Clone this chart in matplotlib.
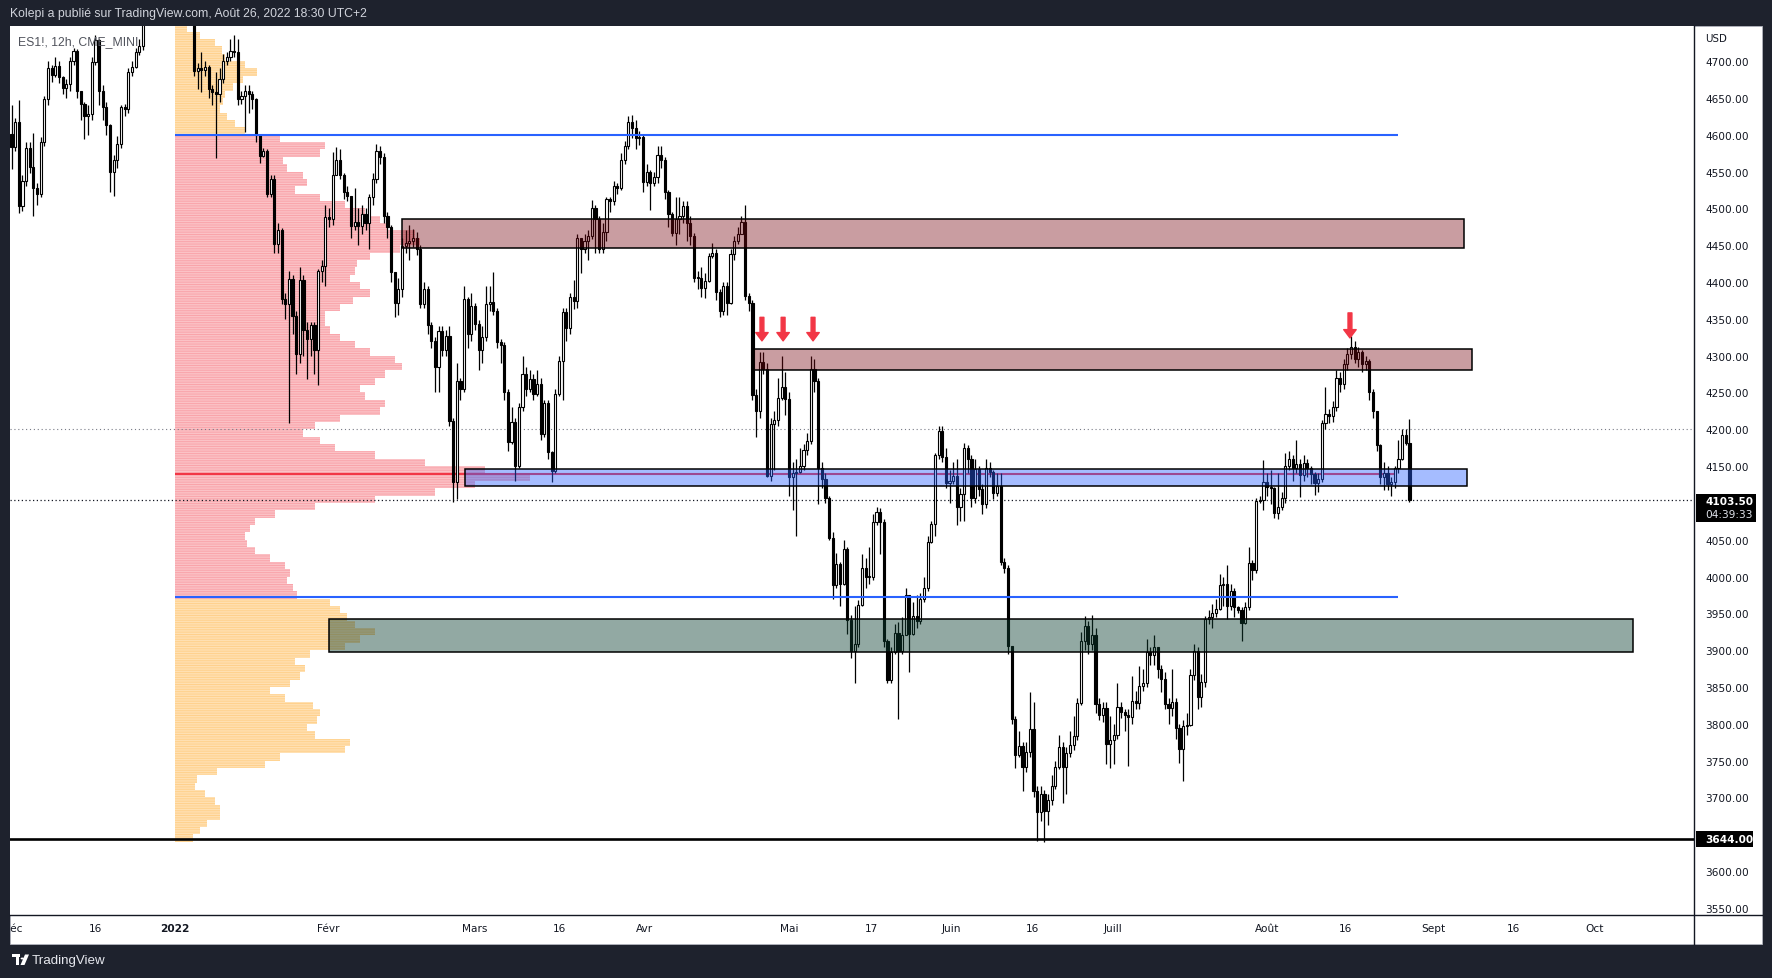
import matplotlib.pyplot as plt
import numpy as np
from matplotlib.patches import Circle, Polygon, Rectangle

# ES1! 12h bars (Dec 2021 -> Aug 26 2022); each bar opens at the previous close
first_open = 4601
closes = [
    4583, 4617, 4503, 4537, 4582, 4556, 4528, 4520, 4590, 4648,
    4690, 4681, 4693, 4678, 4664, 4669, 4700, 4713, 4659, 4642,
    4626, 4628, 4699, 4728, 4660, 4638, 4613, 4550, 4565, 4588,
    4637, 4635, 4685, 4692, 4712, 4720, 4757, 4775, 4768, 4790,
    4782, 4795, 4778, 4770, 4785, 4772, 4790, 4780, 4770, 4765,
    4687, 4690, 4688, 4692, 4662, 4658, 4655, 4676, 4700, 4706,
    4713, 4712, 4648, 4653, 4660, 4655, 4648, 4599, 4571, 4578,
    4519, 4540, 4452, 4470, 4377, 4370, 4404, 4354, 4302, 4403,
    4335, 4322, 4341, 4307, 4415, 4422, 4488, 4485, 4545, 4565,
    4545, 4522, 4517, 4476, 4481, 4476, 4492, 4480, 4515, 4540,
    4578, 4570, 4490, 4474, 4413, 4372, 4391, 4449, 4453, 4456,
    4460, 4445, 4370, 4391, 4341, 4320, 4284, 4334, 4308, 4327,
    4211, 4128, 4266, 4255, 4377, 4330, 4368, 4343, 4307, 4325,
    4370, 4373, 4361, 4319, 4315, 4251, 4183, 4210, 4150, 4230,
    4275, 4255, 4268, 4248, 4262, 4193, 4236, 4169, 4144, 4248,
    4293, 4359, 4338, 4380, 4374, 4460, 4445, 4456, 4463, 4501,
    4485, 4445, 4468, 4512, 4510, 4531, 4528, 4565, 4584, 4617,
    4609, 4596, 4597, 4536, 4549, 4534, 4542, 4572, 4565, 4522,
    4492, 4467, 4485, 4490, 4503, 4480, 4463, 4406, 4405, 4392,
    4402, 4435, 4440, 4386, 4361, 4395, 4372, 4438, 4455, 4465,
    4482, 4381, 4371, 4246, 4225, 4291, 4282, 4137, 4207, 4212,
    4242, 4257, 4241, 4135, 4140, 4142, 4150, 4172, 4184, 4282,
    4265, 4148, 4132, 4107, 4053, 3988, 4017, 3990, 4037, 3941,
    3899, 3908, 3962, 4011, 3999, 4000, 4074, 4088, 4074, 3913,
    3859, 3897, 3924, 3899, 3920, 3975, 3922, 3947, 3940, 3969,
    3984, 4047, 4071, 4165, 4197, 4162, 4127, 4130, 4137, 4094,
    4112, 4174, 4160, 4106, 4146, 4119, 4098, 4148, 4142, 4114,
    4123, 4020, 4012, 3906, 3807, 3757, 3770, 3741, 3762, 3793,
    3709, 3680, 3705, 3682, 3697, 3716, 3741, 3768, 3741, 3760,
    3771, 3784, 3828, 3913, 3933, 3908, 3920, 3827, 3812, 3822,
    3773, 3778, 3785, 3823, 3816, 3812, 3809, 3831, 3828, 3852,
    3855, 3897, 3893, 3904, 3875, 3861, 3827, 3822, 3830, 3794,
    3766, 3797, 3799, 3866, 3899, 3836, 3857, 3943, 3945, 3951,
    3956, 3989, 3990, 3960, 3981, 3959, 3955, 3937, 3958, 4018,
    4009, 4102, 4104, 4129, 4122, 4120, 4086, 4094, 4106, 4150,
    4159, 4147, 4153, 4138, 4154, 4148, 4139, 4127, 4132, 4208,
    4221, 4218, 4230, 4270, 4262, 4288, 4302, 4312, 4295, 4305,
    4288, 4293, 4250, 4225, 4178, 4135, 4140, 4126, 4128, 4147,
    4160, 4192, 4182, 4103.5,
]
highs = [
    4640, 4622, 4647, 4545, 4590, 4590, 4602, 4535, 4597, 4652,
    4700, 4695, 4705, 4700, 4680, 4675, 4705, 4718, 4716, 4660,
    4645, 4640, 4705, 4735, 4730, 4668, 4645, 4615, 4572, 4598,
    4640, 4642, 4690, 4700, 4718, 4730, 4765, 4790, 4785, 4800,
    4795, 4808, 4798, 4785, 4795, 4790, 4800, 4795, 4785, 4780,
    4770, 4698, 4712, 4700, 4695, 4668, 4685, 4690, 4710, 4712,
    4730, 4735, 4730, 4660, 4668, 4668, 4660, 4650, 4600, 4582,
    4580, 4545, 4545, 4480, 4473, 4385, 4415, 4410, 4360, 4420,
    4410, 4345, 4345, 4345, 4418, 4430, 4504, 4500, 4577, 4583,
    4580, 4548, 4530, 4515, 4527, 4500, 4505, 4500, 4520, 4548,
    4588, 4585, 4575, 4495, 4478, 4410, 4405, 4460, 4470, 4478,
    4472, 4468, 4450, 4400, 4395, 4345, 4325, 4340, 4340, 4335,
    4340, 4215, 4290, 4270, 4395, 4380, 4385, 4372, 4348, 4340,
    4395, 4395, 4413, 4365, 4323, 4318, 4255, 4230, 4215, 4236,
    4300, 4285, 4280, 4275, 4280, 4270, 4240, 4240, 4170, 4255,
    4300, 4365, 4365, 4385, 4403, 4465, 4460, 4465, 4470, 4511,
    4505, 4490, 4480, 4515, 4515, 4537, 4535, 4575, 4592, 4626,
    4627, 4620, 4605, 4600, 4560, 4552, 4550, 4585, 4585, 4570,
    4525, 4495, 4515, 4515, 4510, 4510, 4490, 4466, 4415, 4420,
    4412, 4440, 4453, 4445, 4390, 4400, 4400, 4445, 4462, 4475,
    4490, 4505, 4385, 4375, 4255, 4305, 4305, 4290, 4215, 4225,
    4270, 4300, 4278, 4250, 4155, 4160, 4175, 4180, 4195, 4300,
    4295, 4270, 4155, 4140, 4110, 4060, 4032, 4020, 4050, 4040,
    3948, 3960, 3968, 4030, 4025, 4040, 4085, 4095, 4093, 4078,
    3915, 3905, 3935, 3938, 3945, 3985, 3960, 3965, 3975, 3978,
    4000, 4055, 4075, 4168, 4205, 4205, 4175, 4145, 4155, 4160,
    4120, 4182, 4178, 4165, 4160, 4150, 4125, 4160, 4155, 4145,
    4140, 4140, 4025, 4015, 3880, 3810, 3790, 3775, 3775, 3843,
    3830, 3715, 3715, 3710, 3705, 3730, 3750, 3785, 3775, 3768,
    3790, 3810, 3835, 3925, 3946, 3940, 3948, 3930, 3835, 3830,
    3830, 3810, 3800, 3855, 3830, 3820, 3820, 3865, 3845, 3878,
    3875, 3915, 3905, 3920, 3905, 3880, 3870, 3835, 3875, 3835,
    3800, 3805, 3815, 3875, 3908, 3905, 3868, 3947, 3955, 3963,
    3970, 4003, 4000, 4015, 3990, 3985, 3960, 3958, 3965, 4040,
    4022, 4106, 4110, 4158, 4140, 4145, 4122, 4140, 4115, 4168,
    4170, 4165, 4185, 4160, 4165, 4160, 4150, 4142, 4140, 4212,
    4257, 4228, 4238, 4280, 4278, 4295, 4310, 4327, 4320, 4312,
    4308, 4300, 4295, 4255, 4222, 4180, 4155, 4150, 4135, 4150,
    4186, 4200, 4200, 4214,
]
lows = [
    4553, 4578, 4494, 4497, 4530, 4548, 4489, 4505, 4515, 4585,
    4640, 4672, 4678, 4670, 4655, 4650, 4660, 4695, 4650, 4620,
    4594, 4600, 4620, 4695, 4640, 4620, 4600, 4522, 4517, 4555,
    4582, 4625, 4630, 4680, 4690, 4708, 4715, 4752, 4755, 4760,
    4765, 4775, 4770, 4758, 4765, 4760, 4768, 4770, 4760, 4752,
    4680, 4662, 4658, 4680, 4650, 4640, 4569, 4645, 4670, 4695,
    4700, 4705, 4640, 4642, 4603, 4630, 4635, 4590, 4562, 4570,
    4515, 4515, 4440, 4440, 4370, 4350, 4209, 4330, 4275, 4290,
    4300, 4268, 4300, 4275, 4260, 4400, 4395, 4475, 4478, 4545,
    4540, 4512, 4510, 4460, 4470, 4450, 4465, 4470, 4445, 4505,
    4535, 4560, 4480, 4460, 4400, 4352, 4355, 4380, 4440, 4430,
    4448, 4437, 4365, 4365, 4330, 4310, 4250, 4250, 4300, 4300,
    4205, 4101, 4105, 4240, 4250, 4310, 4320, 4335, 4280, 4290,
    4320, 4360, 4355, 4310, 4290, 4240, 4170, 4180, 4130, 4148,
    4225, 4245, 4250, 4240, 4245, 4185, 4190, 4160, 4128, 4140,
    4245, 4240, 4320, 4330, 4363, 4365, 4412, 4440, 4430, 4458,
    4440, 4440, 4440, 4455, 4495, 4505, 4520, 4525, 4560, 4580,
    4595, 4580, 4586, 4522, 4530, 4498, 4530, 4535, 4555, 4512,
    4475, 4462, 4450, 4465, 4480, 4455, 4450, 4400, 4390, 4380,
    4378, 4400, 4432, 4375, 4353, 4355, 4355, 4370, 4430, 4452,
    4465, 4375, 4360, 4240, 4190, 4215, 4275, 4135, 4130, 4145,
    4205, 4240, 4220, 4110, 4090, 4055, 4140, 4145, 4165, 4180,
    4250, 4098, 4120, 4100, 4050, 3970, 3985, 3960, 3988, 3922,
    3890, 3855, 3905, 3960, 3985, 3990, 3995, 4070, 4030, 3905,
    3855, 3855, 3895, 3807, 3895, 3920, 3870, 3920, 3930, 3935,
    3965, 3980, 4045, 4055, 4160, 4155, 4120, 4100, 4125, 4070,
    4075, 4075, 4140, 4095, 4100, 4110, 4085, 4093, 4135, 4105,
    4110, 4015, 4005, 3895, 3800, 3740, 3755, 3709, 3735, 3755,
    3700, 3641, 3668, 3639, 3662, 3690, 3712, 3738, 3693, 3705,
    3755, 3765, 3778, 3825, 3900, 3895, 3900, 3815, 3805, 3803,
    3745, 3740, 3745, 3780, 3808, 3790, 3743, 3800, 3820, 3820,
    3845, 3850, 3880, 3880, 3862, 3843, 3820, 3800, 3810, 3780,
    3747, 3723, 3785, 3797, 3860, 3820, 3823, 3850, 3935, 3930,
    3945, 3955, 3960, 3942, 3955, 3945, 3950, 3912, 3935, 3955,
    3995, 4005, 4100, 4090, 4110, 4098, 4080, 4078, 4090, 4100,
    4145, 4130, 4140, 4108, 4130, 4135, 4126, 4111, 4115, 4128,
    4200, 4208, 4210, 4225, 4250, 4255, 4280, 4295, 4290, 4285,
    4278, 4280, 4240, 4215, 4170, 4125, 4117, 4118, 4110, 4120,
    4140, 4158, 4178, 4101,
]

# visible range volume profile: one value per 10 point row, from 3640 upwards
profile_bottom = 3640
profile_step = 10
profile_volume = [
    18, 25, 32, 45, 45, 40, 30, 20, 22, 42,
    90, 105, 170, 175, 140, 132, 142, 145, 138, 110,
    95, 115, 125, 130, 120, 135, 170, 185, 200, 180,
    172, 165, 155, 122, 118, 112, 115, 110, 95, 80,
    72, 70, 75, 80, 100, 140, 200, 260, 300, 355,
    310, 250, 200, 160, 145, 128, 140, 165, 205, 210,
    190, 185, 200, 210, 227, 220, 195, 180, 165, 155,
    150, 150, 165, 178, 195, 185, 175, 180, 182, 195,
    225, 245, 240, 212, 205, 190, 170, 145, 120, 132,
    128, 112, 108, 145, 150, 105, 70, 60, 52, 45,
    48, 50, 58, 68, 82, 70, 50, 47, 40, 25,
    12,
]
value_area = [3972, 4600]
poc_price = 4139
profile_first_bar = 44.8
profile_last_bar = 379.9

# drawn zones (bar index range and price range)
zone_bars = [(107.0, 397.9), (203.4, 400.1), (124.2, 398.8), (87.0, 444.2)]
zone_prices = [(4446, 4486), (4280, 4309), (4123, 4146), (3897, 3942)]
zone_colors = [(0.47, 0.04, 0.08, 0.4), (0.47, 0.04, 0.08, 0.4),
               (0.16, 0.38, 1.0, 0.42), (0.06, 0.25, 0.2, 0.45)]

support_line = 3644
dotted_level = 4200
last_price = 4103.5
countdown = "04:39:33"

arrow_bars = [205.6, 211.4, 219.6, 366.7]
arrow_tops = [4352, 4352, 4352, 4358]
arrow_tips = [4320, 4320, 4320, 4324]

date_labels = ["Déc", "16", "2022", "Févr", "Mars", "16", "Avr", "Mai", "17",
               "Juin", "16", "Juill", "Août", "16", "Sept", "16", "Oct"]
date_label_bars = [0.3, 22.9, 44.8, 86.7, 127.0, 150.0, 173.3, 213.0, 235.5,
                   257.4, 279.6, 301.8, 344.0, 365.6, 389.5, 411.4, 433.6]

W, H = 1772, 979
BAR_PX = 3.65
FIRST_BAR_X = 11.5
PLOT_LEFT, PLOT_RIGHT, PLOT_TOP, PLOT_BOTTOM = 10, 1694, 27, 916
PANEL_RIGHT, PANEL_BOTTOM = 1762, 945
DARK = "#1e222d"
TEXT = "#131722"
RED = "#f23645"
BLUE = "#2962ff"


def fig_rect(x0, y0, x1, y1):
    return [x0 / W, 1 - y1 / H, (x1 - x0) / W, (y1 - y0) / H]


def px(x, y):
    return x / W, 1 - y / H


def draw_profile(ax):
    volume = np.array(profile_volume, dtype=float)
    row_low = profile_bottom + profile_step * np.arange(len(volume))
    width = volume / volume.max() * 355 / BAR_PX
    inside = (row_low >= value_area[0] - profile_step / 2) & (row_low < value_area[1])

    for mask, rgb in [(inside, (0.95, 0.21, 0.27)), (~inside, (1.0, 0.6, 0.0))]:
        ax.barh(row_low[mask], width[mask], height=profile_step, left=profile_first_bar,
                align="edge", facecolor=rgb + (0.3,), edgecolor=rgb + (0.22,),
                linewidth=0, hatch="-------", zorder=2)


def draw_candles(ax):
    c = np.array(closes, dtype=float)
    o = np.concatenate([[first_open], c[:-1]])
    hi = np.maximum(np.array(highs, dtype=float), np.maximum(o, c))
    lo = np.minimum(np.array(lows, dtype=float), np.minimum(o, c))
    x = np.arange(len(c))
    up = c >= o
    body = np.maximum(np.abs(c - o), 1.4)
    bottom = np.minimum(o, c)

    ax.vlines(x, lo, hi, color="black", linewidth=0.9, zorder=4)
    ax.bar(x[up], body[up], bottom=bottom[up], width=0.6, facecolor="white",
           edgecolor="black", linewidth=0.8, zorder=5)
    ax.bar(x[~up], body[~up], bottom=bottom[~up], width=0.6, facecolor="black",
           edgecolor="black", linewidth=0.8, zorder=5)


def draw_drawings(ax):
    ax.hlines(poc_price, profile_first_bar, 379.6, color=RED, linewidth=1.5, zorder=3.5)

    for (b0, b1), (p0, p1), color in zip(zone_bars, zone_prices, zone_colors):
        ax.add_patch(Rectangle((b0, p0), b1 - b0, p1 - p0, facecolor=color,
                               edgecolor="black", linewidth=1.1, zorder=6))

    ax.hlines(value_area, profile_first_bar, profile_last_bar, color=BLUE,
              linewidth=1.5, zorder=6.5)
    ax.axhline(support_line, color="black", linewidth=1.9, zorder=6.5)
    ax.axhline(dotted_level, color="#787b86", linewidth=0.8, linestyle=(0, (1, 2.5)), zorder=3)
    ax.axhline(last_price, color=TEXT, linewidth=0.9, linestyle=(0, (1, 2)), zorder=3)

    for b, top, tip in zip(arrow_bars, arrow_tops, arrow_tips):
        ax.annotate("", xy=(b, tip), xytext=(b, top), zorder=7,
                    arrowprops=dict(arrowstyle="simple,head_width=0.9,head_length=0.6,tail_width=0.28",
                                    color=RED, mutation_scale=10, shrinkA=0, shrinkB=0))


def draw_frame(fig):
    fig.add_artist(Rectangle(px(PLOT_LEFT, PANEL_BOTTOM), (PANEL_RIGHT - PLOT_LEFT) / W,
                             (PANEL_BOTTOM - PLOT_TOP) / H, transform=fig.transFigure,
                             facecolor="white", edgecolor="#b2b5be", linewidth=0.6, zorder=-5))
    fig.text(*px(10, 14), "Kolepi a publié sur TradingView.com, Août 26, 2022 18:30 UTC+2",
             color="#d1d4dc", fontsize=8.8, family="Liberation Sans", va="center")
    fig.text(*px(18, 42), "ES1!, 12h, CME_MINI", color="#50535c", fontsize=8.8,
             family="Liberation Sans", va="center", zorder=10)

    # TradingView logo + name in the footer
    fig.add_artist(Rectangle(px(12, 958), 8 / W, 3 / H, transform=fig.transFigure,
                             facecolor="white", linewidth=0))
    fig.add_artist(Rectangle(px(15.5, 966), 3.2 / W, 8 / H, transform=fig.transFigure,
                             facecolor="white", linewidth=0))
    fig.add_artist(Circle(px(22.3, 959.5), 1.7 / W, transform=fig.transFigure,
                          facecolor="white", linewidth=0))
    fig.add_artist(Polygon([px(25, 955.5), px(29, 955.5), px(24.5, 966), px(20.5, 966)],
                           closed=True, transform=fig.transFigure, facecolor="white", linewidth=0))
    fig.text(*px(32, 961), "TradingView", color="#e6e8ee", fontsize=9.6,
             family="Liberation Sans", va="center")

    # axis borders
    fig.add_artist(plt.Line2D([PLOT_LEFT / W, PANEL_RIGHT / W], [1 - PLOT_BOTTOM / H] * 2,
                              transform=fig.transFigure, color=TEXT, linewidth=1.0))
    fig.add_artist(plt.Line2D([PLOT_RIGHT / W] * 2, [1 - PLOT_TOP / H, 1 - PANEL_BOTTOM / H],
                              transform=fig.transFigure, color=TEXT, linewidth=1.0))

    # price labels on the scale
    fig.text(*px(1705, 39.5), "USD", color=TEXT, fontsize=7.4, va="center")
    fig.add_artist(Rectangle(px(1696, 523), 60 / W, 28 / H, transform=fig.transFigure,
                             facecolor="black", linewidth=0, zorder=5))
    fig.text(*px(1705, 502), f"{last_price:.2f}", color="white", fontsize=7.6,
             fontweight="bold", va="center", zorder=6)
    fig.text(*px(1705, 515.5), countdown, color="#e0e3eb", fontsize=7.6, va="center", zorder=6)
    fig.add_artist(Rectangle(px(1696, 848), 57 / W, 16 / H, transform=fig.transFigure,
                             facecolor="black", linewidth=0, zorder=5))
    fig.text(*px(1705, 840), f"{support_line:.2f}", color="white", fontsize=7.6,
             fontweight="bold", va="center", zorder=6)


def main():
    plt.rcParams["font.family"] = ["DejaVu Sans"]
    plt.rcParams["hatch.linewidth"] = 0.7

    fig = plt.figure(figsize=(W / 100, H / 100), dpi=100, facecolor=DARK)
    xlim = ((PLOT_LEFT - FIRST_BAR_X) / BAR_PX, (PLOT_RIGHT - FIRST_BAR_X) / BAR_PX)

    ax = fig.add_axes(fig_rect(PLOT_LEFT, PLOT_TOP, PLOT_RIGHT, PLOT_BOTTOM))
    ax.set_facecolor("white")
    ax.set_xlim(*xlim)
    ax.set_ylim(3540.4, 4747.6)
    for side in ["top", "left", "bottom", "right"]:
        ax.spines[side].set_visible(False)
    ax.set_xticks([])
    ax.yaxis.tick_right()
    # labels sitting under the last price / support tags are hidden, as on the scale
    ticks = [t for t in range(3550, 4701, 50)
             if abs(t - last_price) > 12 and abs(t - support_line) > 12]
    ax.set_yticks(ticks)
    ax.set_yticklabels([f"{t:.2f}" for t in ticks])
    ax.tick_params(axis="y", length=0, pad=8, labelsize=7.6, labelcolor=TEXT)

    draw_profile(ax)
    draw_candles(ax)
    draw_drawings(ax)

    ax_dates = fig.add_axes(fig_rect(PLOT_LEFT, PLOT_BOTTOM, PLOT_RIGHT, PANEL_BOTTOM))
    ax_dates.set_xlim(*xlim)
    ax_dates.set_ylim(0, 1)
    ax_dates.axis("off")
    for label, b in zip(date_labels, date_label_bars):
        ax_dates.text(b, 0.55, label, ha="center", va="center", fontsize=7.6, color=TEXT,
                      fontweight="bold" if label == "2022" else "normal", clip_on=True)

    draw_frame(fig)
    fig.savefig("out.png", dpi=100, facecolor=DARK)


if __name__ == "__main__":
    main()
